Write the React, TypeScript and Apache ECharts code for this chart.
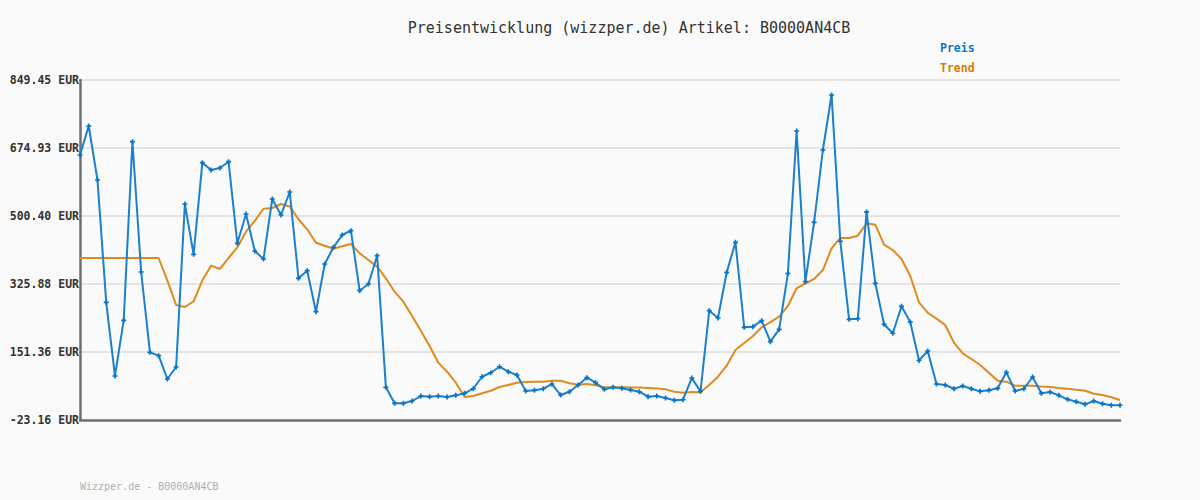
import React, { useEffect, useRef } from "react";
import * as echarts from "echarts";

const preis: number[] = [
  657.0, 731.4, 592.8, 278.9, 89.8, 232.7, 691.1, 356.7, 150.5, 141.9,
  82.1, 112.9, 531.2, 402.1, 637.2, 618.5, 623.6, 639.8, 430.3, 505.5,
  410.6, 390.1, 544.0, 503.0, 562.0, 340.5, 360.0, 254.8, 377.2, 420.0,
  451.6, 462.7, 308.7, 325.9, 398.5, 60.7, 19.7, 19.7, 25.6, 38.4,
  36.7, 38.4, 35.8, 40.1, 45.3, 57.1, 87.9, 98.2, 113.6, 100.8,
  92.3, 51.2, 53.0, 57.1, 69.2, 40.9, 49.4, 66.6, 85.4, 72.6,
  55.5, 60.7, 58.1, 53.8, 49.4, 36.7, 38.4, 33.3, 27.3, 28.9,
  84.6, 50.3, 257.4, 238.6, 355.9, 432.9, 214.7, 216.3, 231.7, 177.8,
  209.6, 353.3, 718.6, 331.8, 484.2, 669.8, 810.9, 435.5, 235.2, 236.9,
  510.9, 327.7, 222.4, 199.4, 268.5, 228.3, 129.5, 153.9, 69.2, 66.6,
  57.1, 64.1, 57.1, 50.4, 53.0, 58.1, 99.2, 51.2, 57.1, 87.2,
  45.3, 48.7, 40.1, 29.9, 23.8, 17.1, 25.6, 18.7, 14.6, 14.6,
];

const trend: number[] = [
  392.6, 392.6, 392.6, 392.6, 392.6, 392.6, 392.6, 392.6, 392.6, 392.6,
  334.4, 272.0, 266.9, 281.4, 335.3, 372.9, 364.4, 392.6, 420.0, 460.1,
  487.6, 519.1, 520.9, 531.2, 525.0, 492.0, 466.2, 431.9, 424.2, 416.5,
  422.6, 428.5, 404.6, 387.5, 370.3, 340.5, 306.1, 280.5, 243.8, 206.1,
  166.8, 124.0, 100.8, 72.6, 35.8, 38.4, 45.3, 52.0, 61.5, 66.6,
  72.6, 74.4, 75.1, 75.1, 77.7, 77.7, 71.0, 67.5, 69.2, 66.0,
  61.0, 61.0, 61.0, 60.5, 60.0, 59.0, 58.0, 55.5, 49.4, 47.0,
  49.0, 48.0, 66.6, 88.0, 116.2, 156.5, 174.4, 192.4, 214.7, 228.3,
  242.0, 269.5, 314.9, 327.7, 338.7, 361.8, 417.5, 444.0, 444.0, 449.9,
  481.6, 478.1, 426.8, 413.1, 390.0, 346.4, 278.9, 252.2, 236.9, 220.6,
  175.3, 148.0, 133.4, 118.0, 98.2, 77.7, 75.1, 64.8, 64.8, 64.8,
  63.1, 61.5, 58.9, 57.1, 54.6, 52.0, 44.3, 40.9, 35.1, 28.2,
];

const categories: string[] = preis.map((_, i) => String(i + 1));

const yMin = -23.16;
const yStep = 174.5215;
const yMax = yMin + 5 * yStep;

const titleText = "Preisentwicklung (wizzper.de) Artikel: B0000AN4CB";
const footerText = "Wizzper.de - B0000AN4CB";
const seriesNames = ["Preis", "Trend"];

const MONO = "'DejaVu Sans Mono', 'Liberation Mono', monospace";
const BLUE = "#1a80cf";
const ORANGE = "#e08a1e";

export default function App() {
  const ref = useRef<HTMLDivElement>(null);
  useEffect(() => {
    if (!ref.current) return;
    const chart = echarts.init(ref.current, null, { renderer: "svg" });
    chart.setOption({
      animation: false,
      backgroundColor: "#fafafa",
      title: {
        text: titleText,
        left: 624,
        top: 15,
        textAlign: "center",
        textStyle: { fontFamily: MONO, fontSize: 15, fontWeight: "normal", color: "#333" },
      },
      legend: {
        data: seriesNames.map((n, i) => ({
          name: n,
          textStyle: { color: i === 0 ? "#0a78c8" : "#d97a06" },
        })),
        orient: "vertical",
        left: 934,
        top: 37,
        itemGap: 8,
        itemWidth: 0,
        itemHeight: 0,
        icon: "none",
        textStyle: { fontFamily: MONO, fontSize: 11.5, fontWeight: "bold", padding: [0, 0, 0, -4] },
      },
      graphic: [
        {
          type: "text",
          left: 80,
          top: 481,
          style: { text: footerText, fill: "#b0b0b0", font: `10px ${MONO}` },
        },
      ],
      grid: { left: 80, right: 80, top: 80, bottom: 80, containLabel: false },
      xAxis: {
        type: "category",
        data: categories,
        boundaryGap: false,
        axisLine: { show: true, onZero: false, lineStyle: { color: "#707070", width: 2.5 } },
        axisTick: { show: false },
        axisLabel: { show: false },
        splitLine: { show: false },
      },
      yAxis: {
        type: "value",
        min: yMin,
        max: yMax,
        interval: yStep,
        axisLine: { show: true, lineStyle: { color: "#707070", width: 2.5 } },
        axisTick: { show: false },
        axisLabel: {
          margin: 1,
          formatter: (v: number) => v.toFixed(2) + " EUR",
          fontFamily: MONO,
          fontSize: 11.5,
          fontWeight: "bold",
          color: "#333",
        },
        splitLine: { show: true, lineStyle: { color: "#e4e4e4", width: 2 } },
      },
      series: [
        {
          name: seriesNames[0],
          type: "line",
          data: preis,
          z: 3,
          color: BLUE,
          lineStyle: { color: BLUE, width: 2 },
          symbol: "path://M1,0H2V1H3V2H2V3H1V2H0V1H1Z",
          symbolSize: 5,
          showSymbol: true,
          showAllSymbol: true,
          itemStyle: { color: "#0a74c4" },
        },
        {
          name: seriesNames[1],
          type: "line",
          data: trend,
          z: 2,
          color: ORANGE,
          lineStyle: { color: ORANGE, width: 2 },
          symbol: "none",
        },
      ],
    });
    return () => chart.dispose();
  }, []);
  return (
    <div
      ref={ref}
      style={{ position: "fixed", left: 0, top: 0, width: 1200, height: 500 }}
    />
  );
}
